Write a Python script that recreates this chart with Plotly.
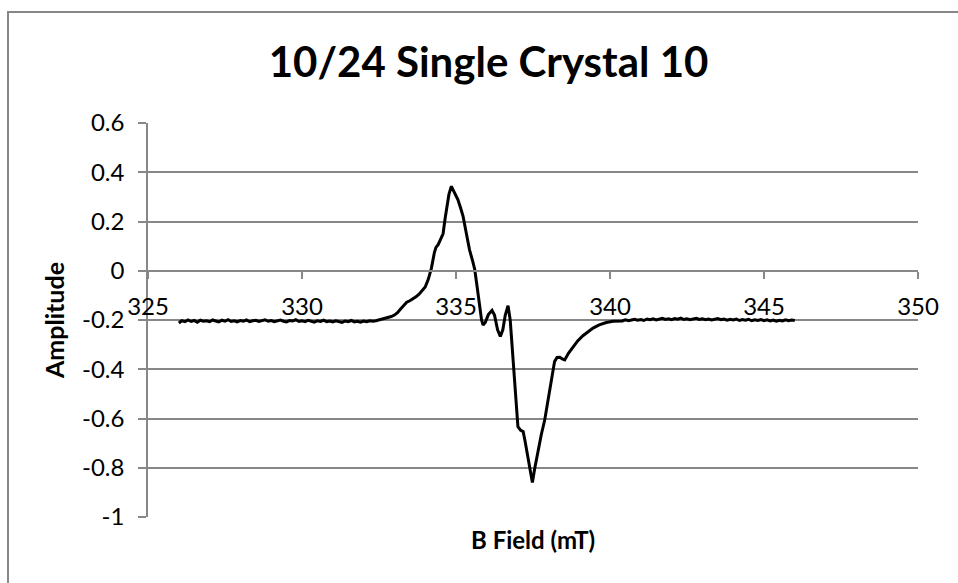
import plotly.graph_objects as go

# EPR derivative spectrum, single crystal run of 10/24
# Low-field baseline (mT, amplitude)
field_low = [326.0, 326.1, 326.2, 326.3, 326.4, 326.5, 326.6, 326.7, 326.8, 326.9,
             327.0, 327.1, 327.2, 327.3, 327.4, 327.5, 327.6, 327.7, 327.8, 327.9,
             328.0, 328.1, 328.2, 328.3, 328.4, 328.5, 328.6, 328.7, 328.8, 328.9,
             329.0, 329.1, 329.2, 329.3, 329.4, 329.5, 329.6, 329.7, 329.8, 329.9,
             330.0, 330.1, 330.2, 330.3, 330.4, 330.5, 330.6, 330.7, 330.8, 330.9,
             331.0, 331.1, 331.2, 331.3, 331.4, 331.5, 331.6, 331.7, 331.8, 331.9,
             332.0, 332.1, 332.2, 332.3]
amp_low = [-0.212, -0.203, -0.207, -0.200, -0.206, -0.202, -0.209, -0.201, -0.205, -0.203,
           -0.207, -0.200, -0.204, -0.208, -0.201, -0.205, -0.199, -0.206, -0.203, -0.208,
           -0.202, -0.205, -0.200, -0.207, -0.203, -0.201, -0.206, -0.204, -0.199, -0.205,
           -0.202, -0.207, -0.203, -0.200, -0.205, -0.208, -0.202, -0.204, -0.199, -0.206,
           -0.203, -0.207, -0.201, -0.205, -0.209, -0.203, -0.206, -0.201, -0.207, -0.204,
           -0.208, -0.203, -0.206, -0.210, -0.204, -0.207, -0.202, -0.208, -0.205, -0.209,
           -0.204, -0.207, -0.203, -0.205]

# Resonance region
field_mid = [332.4, 332.5, 332.6, 332.7, 332.8, 332.9, 333.0, 333.1, 333.2, 333.3,
             333.4, 333.5, 333.6, 333.7, 333.8, 333.9, 334.0, 334.1, 334.2, 334.3,
             334.35, 334.42, 334.5, 334.58, 334.65, 334.7, 334.77, 334.85, 334.95, 335.06,
             335.15, 335.23, 335.33, 335.44, 335.55, 335.61, 335.68, 335.77, 335.83, 335.88,
             335.95, 336.05, 336.17, 336.25, 336.35, 336.44, 336.52, 336.6, 336.69, 336.76,
             336.85, 336.93, 337.01, 337.1, 337.18, 337.24, 337.29, 337.38, 337.48, 337.56,
             337.66, 337.77, 337.88, 337.96, 338.04, 338.12, 338.2, 338.28, 338.37, 338.45,
             338.53, 338.65, 338.8, 338.95, 339.12, 339.3, 339.45, 339.65, 339.88, 340.1,
             340.3]
amp_mid = [-0.203, -0.200, -0.198, -0.195, -0.192, -0.186, -0.180, -0.170, -0.155, -0.140,
           -0.128, -0.122, -0.115, -0.106, -0.095, -0.082, -0.066, -0.035, 0.010, 0.075,
           0.095, 0.106, 0.125, 0.150, 0.215, 0.262, 0.310, 0.343, 0.320, 0.289,
           0.255, 0.221, 0.155, 0.085, 0.035, 0.004, -0.060, -0.145, -0.200, -0.220,
           -0.210, -0.178, -0.161, -0.180, -0.240, -0.267, -0.240, -0.180, -0.142, -0.200,
           -0.362, -0.500, -0.633, -0.648, -0.653, -0.690, -0.728, -0.800, -0.860, -0.800,
           -0.728, -0.665, -0.606, -0.545, -0.484, -0.425, -0.369, -0.352, -0.351, -0.358,
           -0.362, -0.335, -0.308, -0.285, -0.264, -0.246, -0.233, -0.220, -0.210, -0.205,
           -0.203]

# High-field baseline
field_high = [340.4, 340.5, 340.6, 340.7, 340.8, 340.9,
              341.0, 341.1, 341.2, 341.3, 341.4, 341.5, 341.6, 341.7, 341.8, 341.9,
              342.0, 342.1, 342.2, 342.3, 342.4, 342.5, 342.6, 342.7, 342.8, 342.9,
              343.0, 343.1, 343.2, 343.3, 343.4, 343.5, 343.6, 343.7, 343.8, 343.9,
              344.0, 344.1, 344.2, 344.3, 344.4, 344.5, 344.6, 344.7, 344.8, 344.9,
              345.0, 345.1, 345.2, 345.3, 345.4, 345.5, 345.6, 345.7, 345.8, 345.9,
              346.0]
amp_high = [-0.204, -0.199, -0.203, -0.200, -0.197, -0.201,
            -0.198, -0.202, -0.196, -0.199, -0.195, -0.200, -0.197, -0.193, -0.198, -0.195,
            -0.199, -0.194, -0.197, -0.192, -0.198, -0.195, -0.199, -0.196, -0.193, -0.198,
            -0.195, -0.199, -0.196, -0.200, -0.197, -0.194, -0.199, -0.196, -0.201, -0.197,
            -0.200, -0.196, -0.202, -0.198, -0.201, -0.197, -0.203, -0.199, -0.202, -0.198,
            -0.203, -0.199, -0.204, -0.200, -0.205, -0.201, -0.204, -0.199, -0.203, -0.200,
            -0.202]

x_ticks = [325, 330, 335, 340, 345, 350]
y_ticks = [-1, -0.8, -0.6, -0.4, -0.2, 0, 0.2, 0.4, 0.6]
x_range = [325, 350]
y_range = [-1, 0.6]

field = field_low + field_mid + field_high
amplitude = amp_low + amp_mid + amp_high

FONT = "Lato"
GRAY = "#878787"

fig = go.Figure()
fig.add_trace(go.Scatter(x=field, y=amplitude, mode="lines",
                         line=dict(color="black", width=3), showlegend=False))

# horizontal axis crosses the vertical one at amplitude 0
x_cross = (0 - y_range[0]) / (y_range[1] - y_range[0])

fig.update_layout(
    width=958, height=583,
    margin=dict(l=148, r=40, t=123, b=66),
    paper_bgcolor="white", plot_bgcolor="white",
    font=dict(family=FONT, color="black"),
    title=dict(text="<b>10/24 Single Crystal 10</b>", x=0.51, xanchor="center",
               y=1 - 62 / 583, yanchor="middle", font=dict(size=42, family=FONT)),
    xaxis=dict(range=x_range, tickvals=x_ticks, anchor="free", position=x_cross,
               showgrid=False, zeroline=False, showline=True, linecolor=GRAY,
               linewidth=1.5, ticks="outside", ticklen=7, tickwidth=1.5,
               tickcolor=GRAY, tickfont=dict(size=24, family=FONT),
               ticklabelstandoff=8),
    yaxis=dict(range=y_range, tickvals=y_ticks,
               ticktext=[f"{v:g}" for v in y_ticks],
               showgrid=True, gridcolor=GRAY, gridwidth=1.5, zeroline=False,
               showline=True, linecolor=GRAY, linewidth=1.5, ticks="outside",
               ticklen=8, tickwidth=1.5, tickcolor=GRAY,
               tickfont=dict(size=24, family=FONT), ticklabelstandoff=9,
               title=dict(text="<b>Amplitude</b>", font=dict(size=25, family=FONT),
                          standoff=10)),
    shapes=[dict(type="rect", xref="paper", yref="paper",
                 x0=(8 - 148) / 770, x1=1.2, y0=-0.3, y1=(517 - 12) / 394,
                 line=dict(color=GRAY, width=2), fillcolor="rgba(0,0,0,0)",
                 layer="below")],
    annotations=[dict(text="<b>B Field (mT)</b>", xref="paper", yref="paper",
                      x=0.5, y=(517 - 539) / 394, xanchor="center", yanchor="middle",
                      showarrow=False, font=dict(size=24, family=FONT))],
)

fig.write_html("out.html")
